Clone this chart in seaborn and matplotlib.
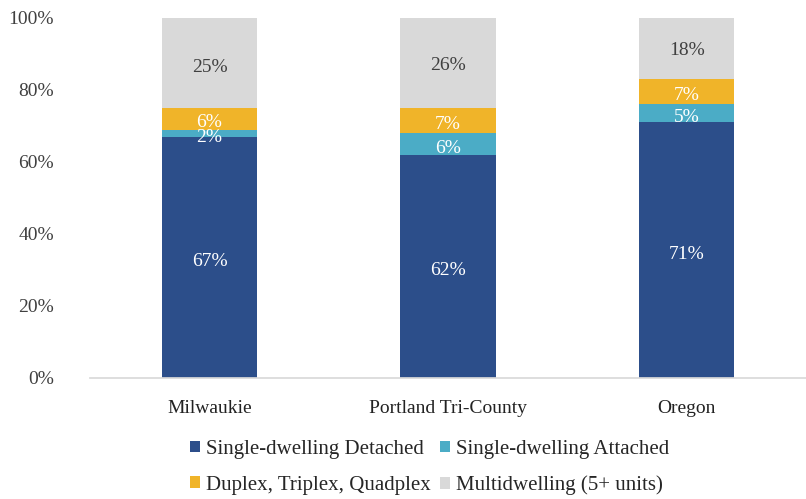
import numpy as np
import pandas as pd
import matplotlib
matplotlib.use("Agg")
import matplotlib.pyplot as plt
import seaborn as sns
from matplotlib.patches import Patch
from matplotlib.transforms import offset_copy

# --- data ---
regions = ["Milwaukie", "Portland Tri-County", "Oregon"]
series = ["Single-dwelling Detached", "Single-dwelling Attached",
          "Duplex, Triplex, Quadplex", "Multidwelling (5+ units)"]
detached = [67, 62, 71]
attached = [2, 6, 5]
plexes = [6, 7, 7]
multi = [25, 26, 18]
yticks = [0, 20, 40, 60, 80, 100]

colors = ["#2C4E8A", "#4BACC6", "#F0B429", "#D9D9D9"]
label_colors = ["white", "white", "white", "#404040"]

df = pd.DataFrame({"Region": regions, series[0]: detached, series[1]: attached,
                   series[2]: plexes, series[3]: multi})

sns.set_theme(style="white")
plt.rcParams["font.family"] = ["Liberation Serif", "DejaVu Serif"]

fig = plt.figure(figsize=(8.06, 4.99), dpi=100)
ax = fig.add_axes([0.112, 0.2425, 0.888, 0.7215])
lbl_tr = offset_copy(ax.transData, fig=fig, y=-3, units="points")

bottom = np.zeros(len(regions))
for s, c, lc in zip(series, colors, label_colors):
    vals = df[s].to_numpy(dtype=float)
    sns.barplot(data=df, x="Region", y=s, color=c, bottom=bottom, width=0.4,
                ax=ax, saturation=1, linewidth=0)
    for i, v in enumerate(vals):
        ax.text(i, bottom[i] + v / 2, f"{v:.0f}%", ha="center", va="center",
                color=lc, fontsize=14, transform=lbl_tr)
    bottom += vals

ax.set_xlim(-0.5, 2.5)
ax.set_ylim(0, 100)
ax.set_yticks(yticks)
ax.set_yticklabels([f"{t}%" for t in yticks], fontsize=14, color="#404040")
ax.tick_params(axis="x", labelsize=14, colors="#222222", length=0, pad=16)
ax.tick_params(axis="y", length=0, pad=26)
ax.set_xlabel("")
ax.set_ylabel("")
for sp in ["top", "right", "left"]:
    ax.spines[sp].set_visible(False)
ax.spines["bottom"].set_color("#D9D9D9")
ax.grid(False)

# legend fills column-major: reorder so rows read Detached/Attached, Duplex/Multi
order = [0, 2, 1, 3]
handles = [Patch(facecolor=colors[i], edgecolor="none") for i in order]
fig.legend(handles, [series[i] for i in order], loc="center",
           bbox_to_anchor=(0.533, 0.063), ncol=2, frameon=False, fontsize=15,
           handlelength=0.5, handleheight=0.5, handletextpad=0.3,
           columnspacing=0.4, labelspacing=0.8)

fig.savefig("out.png", dpi=100)
